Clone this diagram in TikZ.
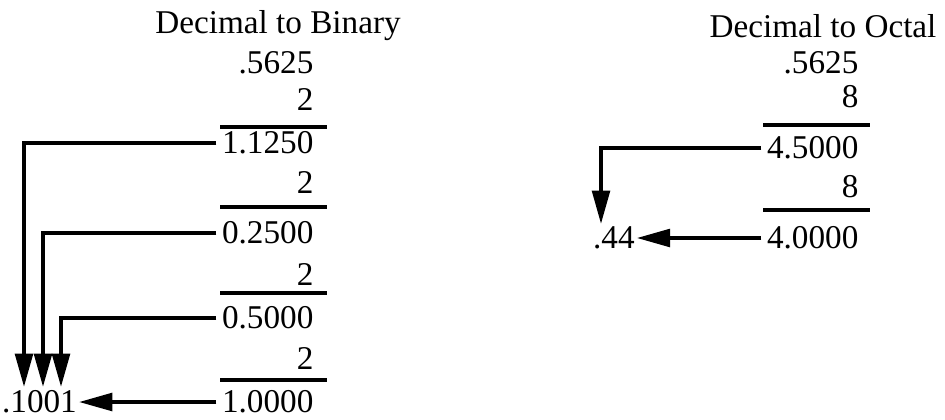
\documentclass[tikz,border=0pt]{standalone}
\usepackage{fontspec}
\setmainfont{Liberation Serif}
\usepackage{tikz}
\usetikzlibrary{arrows.meta, positioning, calc}

\begin{document}
\begin{tikzpicture}[x=0.02cm, y=-0.02cm,
  numtxt/.style={anchor=east, inner xsep=3pt, inner ysep=0pt,
                 font=\fontsize{18.9}{22}\selectfont},
  restxt/.style={anchor=west, inner xsep=1pt, inner ysep=0pt,
                 font=\fontsize{18.9}{22}\selectfont},
  ttl/.style={font=\fontsize{18.9}{22}\selectfont, inner sep=0pt},
  rule/.style={line width=2.2pt},
  arr/.style={-{Triangle[length=19pt, width=10pt]}, line width=2.2pt}
]
  \useasboundingbox (0,0) rectangle (945,419);

  % decimal to binary
  \node[ttl] (btitle) at (278, 26) {Decimal to Binary};
  \node[numtxt] (b0)  at (319, 63)  {.5625};
  \node[numtxt] (bm1) at (319, 100) {2};
  \draw[rule] (220, 127) -- (327, 127);
  \node[numtxt] (b1)  at (319, 143) {1.1250};
  \node[numtxt] (bm2) at (319, 183) {2};
  \draw[rule] (220, 207) -- (327, 207);
  \node[numtxt] (b2)  at (319, 233) {0.2500};
  \node[numtxt] (bm3) at (319, 275) {2};
  \draw[rule] (220, 293) -- (327, 293);
  \node[numtxt] (b3)  at (319, 318) {0.5000};
  \node[numtxt] (bm4) at (319, 358) {2};
  \draw[rule] (220, 380) -- (327, 380);
  \node[numtxt] (b4)  at (319, 402) {1.0000};
  \node[restxt] (bres) at (0, 402) {.1001};

  \coordinate (bd1) at (24, 387);
  \coordinate (bd2) at (43, 387);
  \coordinate (bd3) at (61, 387);
  \draw[arr] (b1.west) -| (bd1);
  \draw[arr] (b2.west) -| (bd2);
  \draw[arr] (b3.west) -| (bd3);
  \draw[arr] (b4.west) -- (bres.east);

  % decimal to octal
  \node[ttl] (otitle) at (823, 26) {Decimal to Octal};
  \node[numtxt] (o0)  at (864, 63)  {.5625};
  \node[numtxt] (om1) at (864, 97)  {8};
  \draw[rule] (763, 125) -- (870, 125);
  \node[numtxt] (o1)  at (864, 148) {4.5000};
  \node[numtxt] (om2) at (864, 187) {8};
  \draw[rule] (763, 210) -- (870, 210);
  \node[numtxt] (o2)  at (864, 238) {4.0000};
  \node[restxt] (ores) at (591, 238) {.44};

  \coordinate (od1) at (601, 224);
  \draw[arr] (o1.west) -| (od1);
  \draw[arr] (o2.west) -- (ores.east);
\end{tikzpicture}
\end{document}
